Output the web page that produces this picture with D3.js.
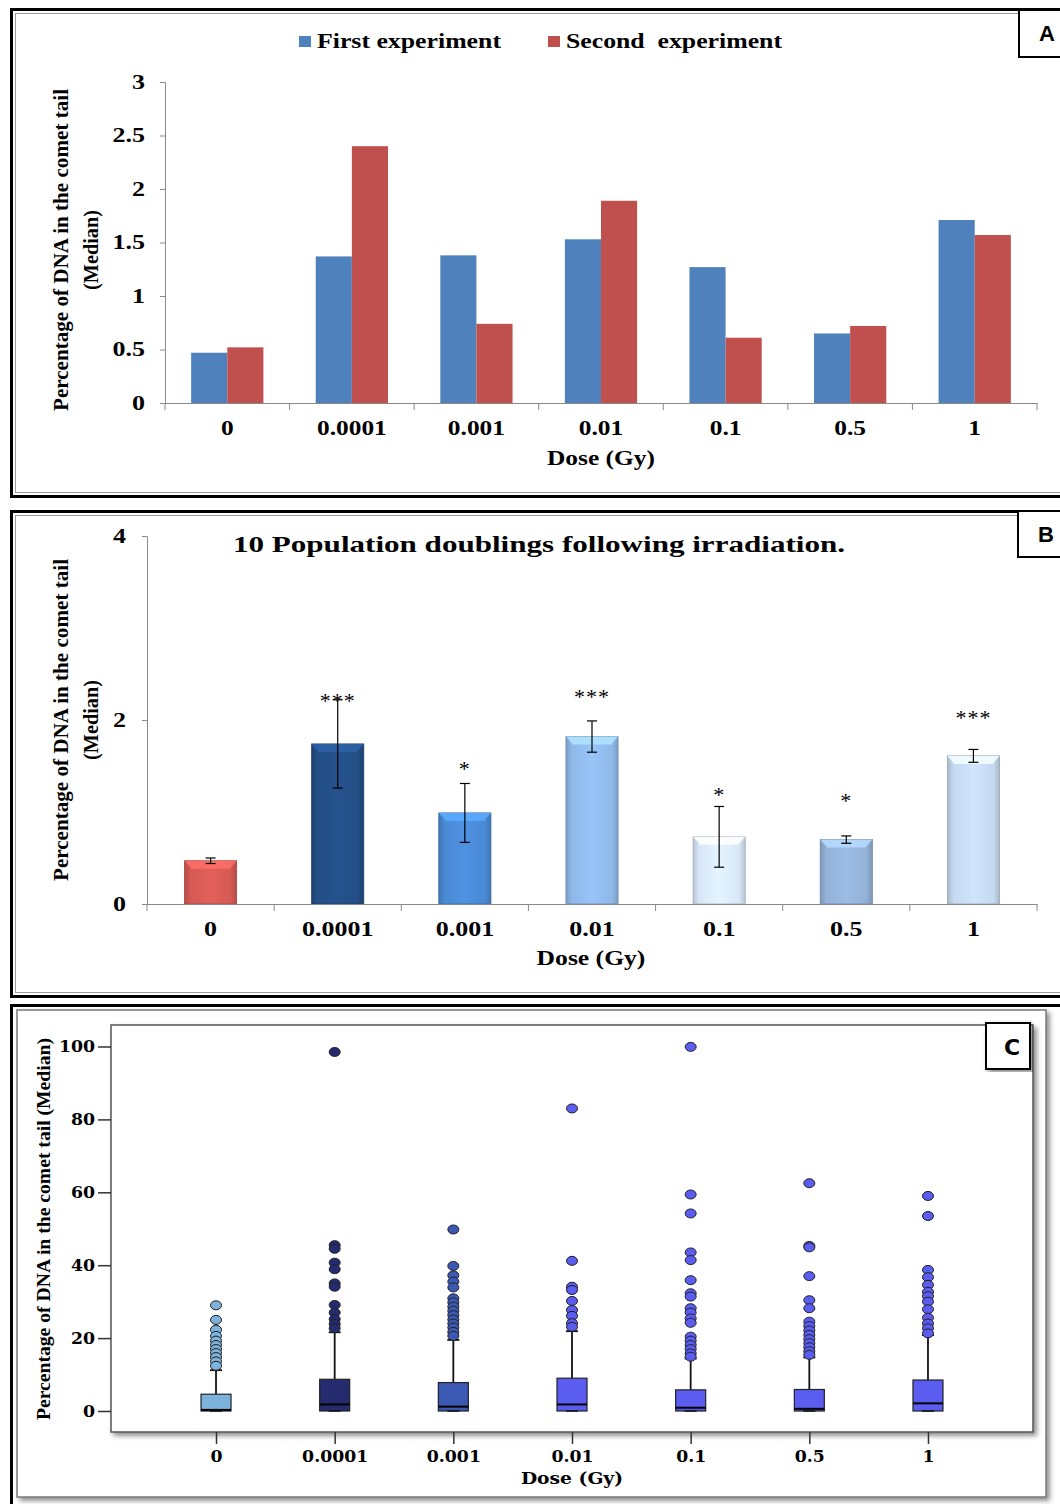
<!DOCTYPE html>
<html>
<head>
<meta charset="utf-8">
<script src="https://cdn.jsdelivr.net/npm/d3@7"></script>
<style>
  body { margin: 0; background: #fff; }
  svg { display: block; }
  text { font-family: "Liberation Serif", "Times New Roman", serif; fill: #000; }
</style>
</head>
<body>
<svg id="chart" width="1060" height="1504"></svg>
<script>
// ---- data ----
var doses = ["0", "0.0001", "0.001", "0.01", "0.1", "0.5", "1"];

// panel A
var firstExp = [0.47, 1.37, 1.38, 1.53, 1.27, 0.65, 1.71];
var secondExp = [0.52, 2.40, 0.74, 1.89, 0.61, 0.72, 1.57];
var yTicksA = [0, 0.5, 1, 1.5, 2, 2.5, 3];

// panel B
var medianB = [0.47, 1.74, 0.99, 1.82, 0.73, 0.70, 1.61];
var errB = [0.03, 0.48, 0.32, 0.17, 0.33, 0.04, 0.07];
var sigB = ["", "***", "*", "***", "*", "*", "***"];
var sigLevelB = [null, 2.25, 1.51, 2.29, 1.23, 1.16, 2.07];
var yTicksB = [0, 2, 4];
var colorsB = ["#d65a55", "#234e86", "#4a8ad6", "#90b9ea", "#d8e7f8", "#94b2d8", "#c5d9f0"];

// panel C
var q1C = [0, 0, 0, 0, 0, 0, 0];
var medC = [0.3, 1.8, 1.2, 1.8, 0.9, 0.6, 2.1];
var q3C = [4.6, 8.7, 7.8, 9.0, 5.8, 5.9, 8.5];
var whiskerC = [11.2, 21.6, 19.5, 21.9, 14.4, 14.7, 20.8];
var outliersC = [
  [29.0, 25.0, 22.3, 20.6, 19.3, 18.1, 17.0, 15.9, 14.8, 13.6, 12.4],
  [98.5, 45.5, 44.5, 40.7, 38.9, 35.0, 34.1, 29.1, 27.0, 25.2, 23.9, 22.7],
  [49.8, 39.8, 37.2, 35.5, 33.9, 30.9, 29.8, 28.6, 27.5, 26.3, 25.1, 24.0, 22.9, 21.7, 20.6],
  [83.0, 41.2, 34.1, 33.2, 30.2, 27.7, 26.1, 24.1, 23.1],
  [99.9, 59.4, 54.2, 43.5, 41.4, 35.9, 32.3, 31.4, 28.2, 27.0, 25.4, 24.2, 20.4, 19.3, 18.1, 17.0, 15.8, 14.9],
  [62.5, 45.3, 44.9, 37.0, 30.4, 28.2, 24.5, 23.3, 22.1, 20.9, 19.7, 18.6, 17.5, 16.4, 15.4],
  [59.0, 53.5, 38.7, 36.7, 34.6, 32.7, 31.5, 30.0, 27.9, 25.6, 24.0, 22.7, 21.3]
];
var yTicksC = [0, 20, 40, 60, 80, 100];
var colorsC = ["#7db2dc", "#242b6e", "#3b59b2", "#5b5cf0", "#5b5cf0", "#5b5cf0", "#5b5cf0"];

var svg = d3.select("#chart");
var defs = svg.append("defs");

defs.append("filter").attr("id", "shadow")
    .attr("x", "-5%").attr("y", "-5%").attr("width", "110%").attr("height", "110%")
  .append("feDropShadow")
    .attr("dx", 3).attr("dy", 3).attr("stdDeviation", 2.5)
    .attr("flood-color", "#000").attr("flood-opacity", 0.45);

// widen text horizontally like the scanned figure
function stretch(sel, k) {
  sel.each(function () {
    var w = this.getComputedTextLength();
    d3.select(this).attr("textLength", w * k).attr("lengthAdjust", "spacingAndGlyphs");
  });
}

function frame(y0, y1) {
  svg.append("rect").attr("x", 11.5).attr("y", y0).attr("width", 1100).attr("height", y1 - y0)
      .attr("fill", "none").attr("stroke", "#000").attr("stroke-width", 3);
  svg.append("rect").attr("x", 15.5).attr("y", y0 + 4).attr("width", 1100).attr("height", y1 - y0 - 8)
      .attr("fill", "none").attr("stroke", "#999").attr("stroke-width", 1);
}

function letterBox(x, y, w, h, letter, tx, ty) {
  svg.append("rect").attr("x", x).attr("y", y).attr("width", w).attr("height", h)
      .attr("fill", "#fff").attr("stroke", "#000").attr("stroke-width", 2);
  svg.append("text").attr("x", tx).attr("y", ty).attr("text-anchor", "middle")
      .style("font-family", "'Liberation Sans', Arial, sans-serif")
      .style("font-weight", "bold").style("font-size", "22px").text(letter);
}

function yTitle(x, cy, label, len, size) {
  svg.append("text")
      .attr("transform", "translate(" + x + "," + cy + ") rotate(-90)")
      .attr("text-anchor", "middle")
      .style("font-weight", "bold").style("font-size", size + "px")
      .attr("textLength", len).attr("lengthAdjust", "spacingAndGlyphs")
      .text(label);
}

function styleAxis(g, size) {
  g.selectAll("path, line").attr("stroke", "#8a8a8a");
  g.selectAll("text").style("font-family", "'Liberation Serif', serif")
      .style("font-weight", "bold").style("font-size", size + "px").attr("fill", "#000");
}

// =============== PANEL A ===============
frame(9.5, 496.5);
letterBox(1019, 10, 60, 47, "A", 1047, 41);

var xA = d3.scaleBand().domain(doses).range([165, 1037]).paddingInner(0.42).paddingOuter(0.21);
var xSubA = d3.scaleBand().domain(["first", "second"]).range([0, xA.bandwidth()]);
var yA = d3.scaleLinear().domain([0, 3]).range([403, 82]);

var gA = svg.append("g");

var groupsA = gA.selectAll("g.grp").data(doses).enter().append("g")
    .attr("transform", function (d) { return "translate(" + xA(d) + ",0)"; });
groupsA.append("rect")
    .attr("x", xSubA("first")).attr("width", xSubA.bandwidth())
    .attr("y", function (d, i) { return yA(firstExp[i]); })
    .attr("height", function (d, i) { return yA(0) - yA(firstExp[i]); })
    .attr("fill", "#4f81bd");
groupsA.append("rect")
    .attr("x", xSubA("second")).attr("width", xSubA.bandwidth())
    .attr("y", function (d, i) { return yA(secondExp[i]); })
    .attr("height", function (d, i) { return yA(0) - yA(secondExp[i]); })
    .attr("fill", "#c0504d");

var axYA = gA.append("g").attr("transform", "translate(165,0)")
    .call(d3.axisLeft(yA).tickValues(yTicksA).tickSize(5).tickPadding(15).tickFormat(function (d) { return String(d); }));
styleAxis(axYA, 20);
stretch(axYA.selectAll("text"), 1.3);

var axXA = gA.append("g").attr("transform", "translate(0,403)")
    .call(d3.axisBottom(xA).tickSize(0).tickPadding(18));
styleAxis(axXA, 20);
stretch(axXA.selectAll("text"), 1.27);

var boundsA = doses.map(function (d) { return xA(d) - xA.step() * xA.paddingInner() / 2; }).concat([1037]);
gA.selectAll("line.bA").data(boundsA).enter().append("line")
    .attr("x1", function (d) { return d; }).attr("x2", function (d) { return d; })
    .attr("y1", 403).attr("y2", 410).attr("stroke", "#8a8a8a");

var tA = gA.append("text").attr("x", 601).attr("y", 465).attr("text-anchor", "middle")
    .style("font-weight", "bold").style("font-size", "20px").text("Dose (Gy)");
stretch(tA, 1.27);

yTitle(68, 250, "Percentage of DNA in the comet tail", 322, 21);
yTitle(98, 250, "(Median)", 80, 21);

// legend A
var legA = [
  { name: "First experiment", color: "#4f81bd", x: 299, w: 184 },
  { name: "Second  experiment", color: "#c0504d", x: 548, w: 216 }
];
legA.forEach(function (l) {
  svg.append("rect").attr("x", l.x).attr("y", 36).attr("width", 12).attr("height", 11).attr("fill", l.color);
  svg.append("text").attr("x", l.x + 18).attr("y", 48)
      .style("font-weight", "bold").style("font-size", "21px")
      .attr("xml:space", "preserve")
      .attr("textLength", l.w).attr("lengthAdjust", "spacingAndGlyphs")
      .text(l.name);
});

// =============== PANEL B ===============
frame(511.5, 996.5);
letterBox(1018, 511, 60, 46, "B", 1046, 542);

var xB = d3.scaleBand().domain(doses).range([147, 1037]).paddingInner(0.59).paddingOuter(0.295);
var yB = d3.scaleLinear().domain([0, 4]).range([904, 536]);
var gB = svg.append("g");

doses.forEach(function (d, i) {
  var c = d3.color(colorsB[i]);
  var grad = defs.append("linearGradient").attr("id", "gB" + i)
      .attr("x1", "0%").attr("x2", "100%").attr("y1", "0%").attr("y2", "0%");
  grad.append("stop").attr("offset", "0%").attr("stop-color", c.darker(0.45));
  grad.append("stop").attr("offset", "12%").attr("stop-color", c);
  grad.append("stop").attr("offset", "50%").attr("stop-color", c.brighter(0.15));
  grad.append("stop").attr("offset", "88%").attr("stop-color", c);
  grad.append("stop").attr("offset", "100%").attr("stop-color", c.darker(0.45));
});

var barsB = gB.selectAll("g.barB").data(doses).enter().append("g");
barsB.append("rect")
    .attr("x", function (d) { return xB(d); })
    .attr("width", xB.bandwidth())
    .attr("y", function (d, i) { return yB(medianB[i]); })
    .attr("height", function (d, i) { return yB(0) - yB(medianB[i]); })
    .attr("fill", function (d, i) { return "url(#gB" + i + ")"; })
    .attr("stroke", function (d, i) { return d3.color(colorsB[i]).darker(0.8); })
    .attr("stroke-width", 0.8);
barsB.append("polygon")
    .attr("points", function (d, i) {
      var x0 = xB(d), x1 = x0 + xB.bandwidth(), y0 = yB(medianB[i]);
      return [[x0, y0], [x1, y0], [x1 - 7, y0 + 8], [x0 + 7, y0 + 8]].join(" ");
    })
    .attr("fill", function (d, i) { return d3.color(colorsB[i]).brighter(0.6); })
    .attr("opacity", 0.85);

// error bars
var errG = gB.selectAll("g.err").data(doses).enter().append("g")
    .attr("stroke", "#000").attr("stroke-width", 1.2);
errG.append("line")
    .attr("x1", function (d) { return xB(d) + xB.bandwidth() / 2; })
    .attr("x2", function (d) { return xB(d) + xB.bandwidth() / 2; })
    .attr("y1", function (d, i) { return yB(medianB[i] + errB[i]); })
    .attr("y2", function (d, i) { return yB(medianB[i] - errB[i]); });
[1, -1].forEach(function (s) {
  errG.append("line")
      .attr("x1", function (d) { return xB(d) + xB.bandwidth() / 2 - 5; })
      .attr("x2", function (d) { return xB(d) + xB.bandwidth() / 2 + 5; })
      .attr("y1", function (d, i) { return yB(medianB[i] + s * errB[i]); })
      .attr("y2", function (d, i) { return yB(medianB[i] + s * errB[i]); });
});

// significance stars
gB.selectAll("text.sig").data(doses).enter().append("text")
    .attr("x", function (d) { return xB(d) + xB.bandwidth() / 2; })
    .attr("y", function (d, i) { return sigLevelB[i] == null ? 0 : yB(sigLevelB[i]) + 11; })
    .attr("text-anchor", "middle")
    .style("font-size", "22px").style("letter-spacing", "1px")
    .text(function (d, i) { return sigB[i]; });

var axYB = gB.append("g").attr("transform", "translate(147,0)")
    .call(d3.axisLeft(yB).tickValues(yTicksB).tickSize(5).tickPadding(16).tickFormat(function (d) { return String(d); }));
styleAxis(axYB, 20);
stretch(axYB.selectAll("text"), 1.3);

var axXB = gB.append("g").attr("transform", "translate(0,904)")
    .call(d3.axisBottom(xB).tickSize(0).tickPadding(18));
styleAxis(axXB, 20);
stretch(axXB.selectAll("text"), 1.3);

var boundsB = doses.map(function (d) { return xB(d) - xB.step() * xB.paddingInner() / 2; }).concat([1037]);
gB.selectAll("line.bB").data(boundsB).enter().append("line")
    .attr("x1", function (d) { return d; }).attr("x2", function (d) { return d; })
    .attr("y1", 904).attr("y2", 911).attr("stroke", "#8a8a8a");

var tB = gB.append("text").attr("x", 591).attr("y", 965).attr("text-anchor", "middle")
    .style("font-weight", "bold").style("font-size", "20px").text("Dose (Gy)");
stretch(tB, 1.28);

var titleB = gB.append("text").attr("x", 539).attr("y", 552).attr("text-anchor", "middle")
    .style("font-weight", "bold").style("font-size", "24px")
    .text("10 Population doublings following irradiation.");
titleB.attr("textLength", 612).attr("lengthAdjust", "spacingAndGlyphs");

yTitle(68, 720, "Percentage of DNA in the comet tail", 322, 21);
yTitle(98, 720, "(Median)", 80, 21);

// =============== PANEL C ===============
svg.append("rect").attr("x", 17).attr("y", 1010).attr("width", 1029).attr("height", 487)
    .attr("fill", "#fff").attr("stroke", "#777").attr("stroke-width", 1.5)
    .attr("filter", "url(#shadow)");
svg.append("line").attr("x1", 10).attr("x2", 1060).attr("y1", 1005.5).attr("y2", 1005.5)
    .attr("stroke", "#000").attr("stroke-width", 3);
svg.append("line").attr("x1", 11.5).attr("x2", 11.5).attr("y1", 1004).attr("y2", 1504)
    .attr("stroke", "#000").attr("stroke-width", 3);

svg.append("rect").attr("x", 111).attr("y", 1025).attr("width", 922).attr("height", 407)
    .attr("fill", "#fff").attr("stroke", "#555").attr("stroke-width", 1.5)
    .attr("filter", "url(#shadow)");

var xC = d3.scalePoint().domain(doses).range([111, 1033]).padding(0.885);
var yC = d3.scaleLinear().domain([0, 100]).range([1411, 1046.5]);
var gC = svg.append("g");
var boxW = 30;

var axYC = gC.append("g").attr("transform", "translate(111,0)")
    .call(d3.axisLeft(yC).tickValues(yTicksC).tickSize(13).tickPadding(3));
axYC.select(".domain").remove();
axYC.selectAll("line").attr("stroke", "#333").attr("stroke-width", 1.5);
axYC.selectAll("text").style("font-family", "'DejaVu Serif', serif")
    .style("font-weight", "bold").style("font-size", "16px").attr("fill", "#000");
stretch(axYC.selectAll("text"), 1.08);

var axXC = gC.append("g").attr("transform", "translate(0,1432)")
    .call(d3.axisBottom(xC).tickSize(12).tickPadding(7));
axXC.select(".domain").remove();
axXC.selectAll("line").attr("stroke", "#333").attr("stroke-width", 1.5);
axXC.selectAll("text").style("font-family", "'DejaVu Serif', serif")
    .style("font-weight", "bold").style("font-size", "16px").attr("fill", "#000");
stretch(axXC.selectAll("text"), 1.08);

var tC = gC.append("text").attr("x", 572).attr("y", 1484).attr("text-anchor", "middle")
    .style("font-family", "'DejaVu Serif', serif")
    .style("font-weight", "bold").style("font-size", "17px").text("Dose (Gy)");
stretch(tC, 1.1);

yTitle(50, 1229, "Percentage of DNA in the comet tail (Median)", 382, 19);

var boxes = gC.selectAll("g.box").data(doses).enter().append("g")
    .attr("transform", function (d) { return "translate(" + xC(d) + ",0)"; });
boxes.append("line").attr("x1", 0).attr("x2", 0)
    .attr("y1", function (d, i) { return yC(q3C[i]); })
    .attr("y2", function (d, i) { return yC(whiskerC[i]); })
    .attr("stroke", "#111").attr("stroke-width", 1.8);
boxes.append("line").attr("x1", -6).attr("x2", 6)
    .attr("y1", function (d, i) { return yC(whiskerC[i]); })
    .attr("y2", function (d, i) { return yC(whiskerC[i]); })
    .attr("stroke", "#111").attr("stroke-width", 1.8);
boxes.append("rect").attr("x", -boxW / 2).attr("width", boxW)
    .attr("y", function (d, i) { return yC(q3C[i]); })
    .attr("height", function (d, i) { return yC(q1C[i]) - yC(q3C[i]); })
    .attr("fill", function (d, i) { return colorsC[i]; })
    .attr("stroke", "#222").attr("stroke-width", 1.2);
boxes.append("line").attr("x1", -boxW / 2).attr("x2", boxW / 2)
    .attr("y1", function (d, i) { return yC(medC[i]); })
    .attr("y2", function (d, i) { return yC(medC[i]); })
    .attr("stroke", "#000").attr("stroke-width", 2);
boxes.append("line").attr("x1", -6).attr("x2", 6)
    .attr("y1", function (d, i) { return yC(q1C[i]); })
    .attr("y2", function (d, i) { return yC(q1C[i]); })
    .attr("stroke", "#111").attr("stroke-width", 1.5);
boxes.each(function (d, i) {
  d3.select(this).selectAll("ellipse").data(outliersC[i]).enter().append("ellipse")
      .attr("cx", 0).attr("cy", function (v) { return yC(v); })
      .attr("rx", 5.5).attr("ry", 4.5)
      .attr("fill", colorsC[i]).attr("stroke", "#222").attr("stroke-width", 1);
});

svg.append("rect").attr("x", 986).attr("y", 1023).attr("width", 44).attr("height", 46)
    .attr("fill", "#fff").attr("stroke", "#000").attr("stroke-width", 2)
    .attr("filter", "url(#shadow)");
svg.append("text").attr("x", 1012).attr("y", 1055).attr("text-anchor", "middle")
    .style("font-family", "'DejaVu Sans', sans-serif")
    .style("font-weight", "bold").style("font-size", "22px").text("C");
</script>
</body>
</html>
